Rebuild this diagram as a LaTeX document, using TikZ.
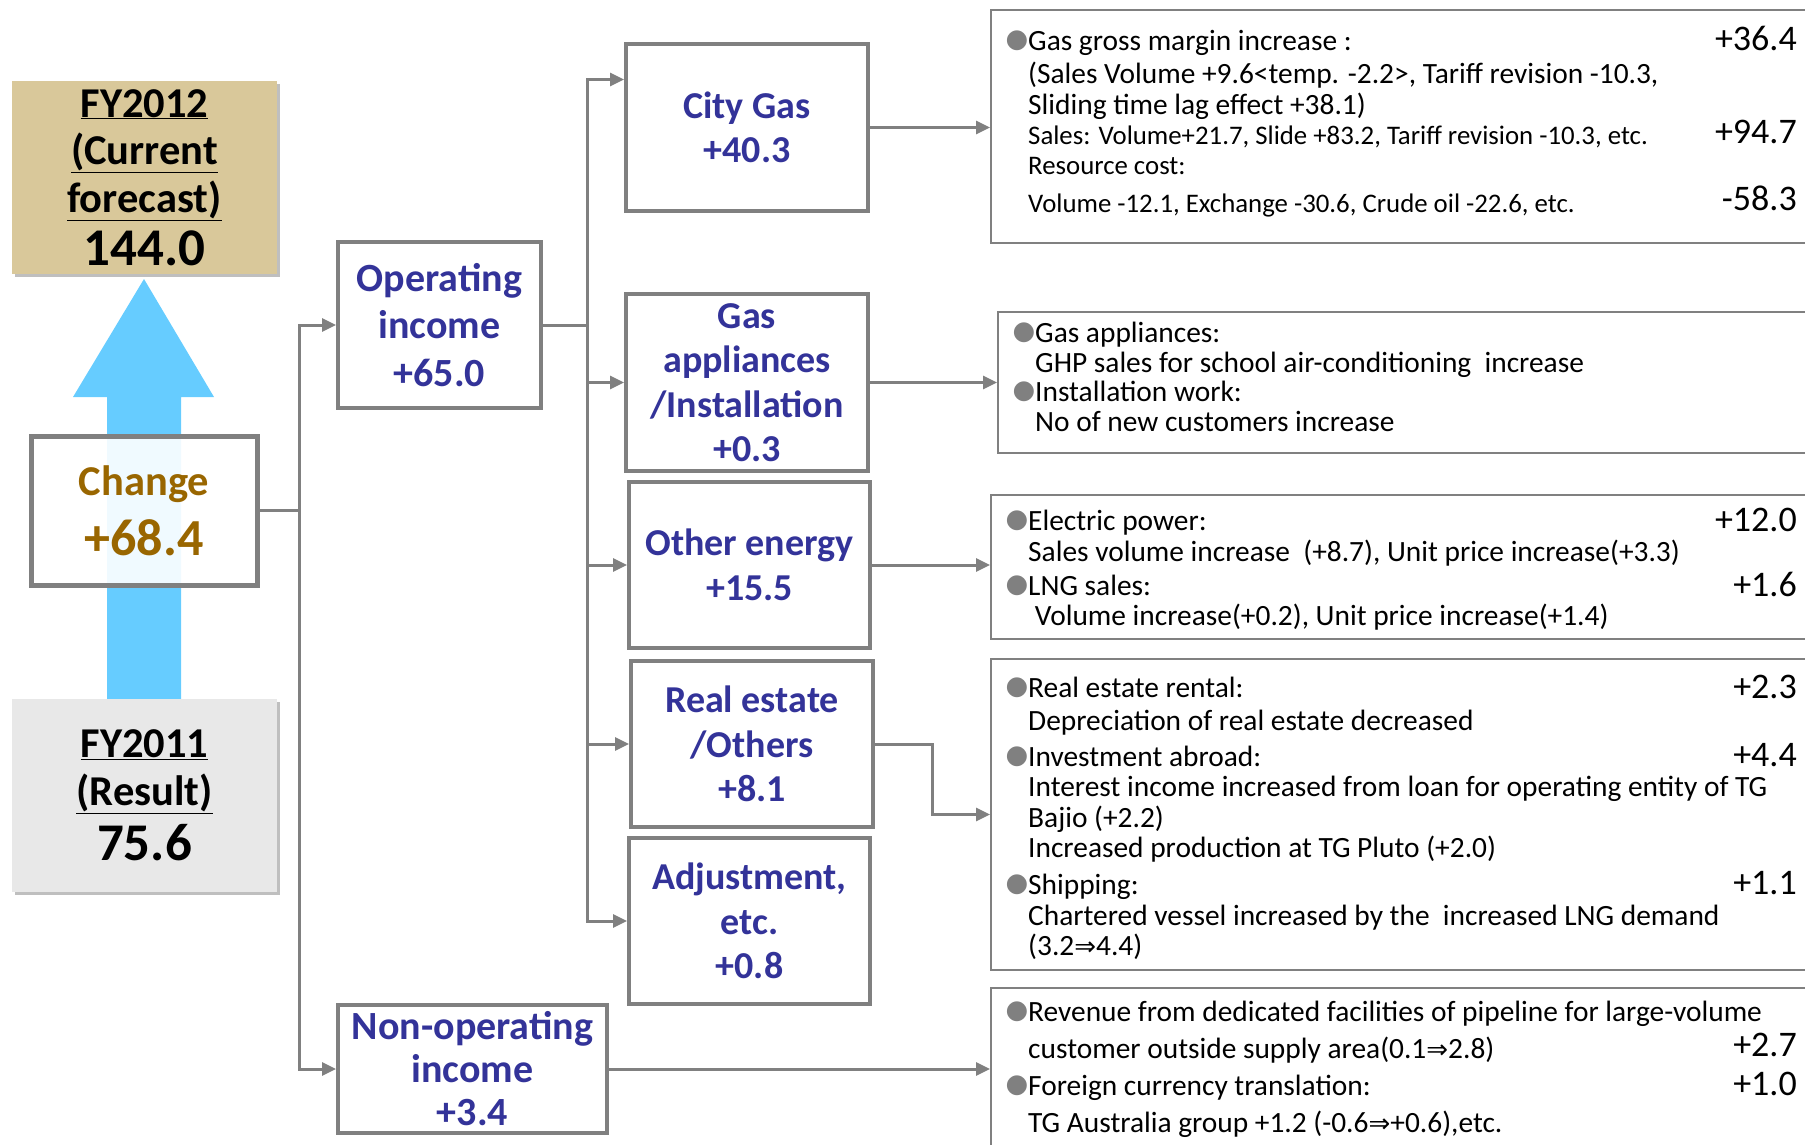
\documentclass[tikz,border=0pt]{standalone}
\usepackage{fontspec}
\setmainfont{Carlito}
\newfontfamily\symfont{DejaVu Sans}
\usetikzlibrary{positioning,calc,arrows.meta,shadows}
\definecolor{tgnavy}{RGB}{51,51,153}
\definecolor{tgbrown}{RGB}{153,102,0}
\definecolor{tgtan}{RGB}{217,200,154}
\definecolor{tglight}{RGB}{232,232,232}
\definecolor{tgsky}{RGB}{102,204,255}
\definecolor{tggray}{RGB}{128,128,128}
\newcommand\bul{\llap{\raisebox{3pt}{\color{tggray}\symfont\fontsize{26}{26}\selectfont ●}}}
\newcommand\imp{{\symfont\fontsize{26}{26}\selectfont ⇒}}

\begin{document}
\begin{tikzpicture}[x=1pt, y=-1pt,
  sumbox/.style={rectangle, minimum width=265pt, minimum height=193pt, inner sep=0pt, align=center,
                 font=\bfseries\fontsize{42.5}{47.5}\selectfont,
                 drop shadow={shadow xshift=3pt, shadow yshift=-3pt, fill=black!25, opacity=1}},
  chgbox/.style={rectangle, draw=tggray, line width=5pt, fill=white, fill opacity=0.9, text opacity=1,
                 text=tgbrown, minimum width=226pt, minimum height=149pt, inner sep=0pt, align=center},
  midbox/.style={rectangle, draw=tggray, line width=4pt, fill=white, text=tgnavy, inner sep=0pt,
                 align=center, font=\bfseries\fontsize{38}{44.5}\selectfont},
  detbox/.style={rectangle, draw=tggray, line width=2pt, anchor=north west, minimum width=860pt},
  dettext/.style={anchor=north west, align=left, inner sep=0pt, font=\fontsize{29.4}{30.5}\selectfont},
  val/.style={anchor=base east, inner sep=0pt, font=\fontsize{36}{36}\selectfont},
  wire/.style={draw=tggray, line width=3pt},
  link/.style={wire, -{Triangle[length=14pt,width=13pt]}},
]
\useasboundingbox (0,0) rectangle (1805,1145);
\clip (0,0) rectangle (1805,1145);

% left column: forecast, arrow, change, result
\fill[tgsky] (107,699) -- (107,397) -- (73,397) -- (144,279) -- (214,397) -- (181,397) -- (181,699) -- cycle;
\node[sumbox, fill=tgtan] (fy12) at (144.5,177.5)
  {\underline{FY2012}\\\underline{(Current}\\\underline{forecast)}\\[6pt]{\fontsize{53}{53}\selectfont 144.0}};
\node[sumbox, fill=tglight] (fy11) at (144.5,795.5)
  {\underline{FY2011}\\\underline{(Result)}\\[8pt]{\fontsize{53}{53}\selectfont 75.6}};
\node[chgbox] (change) at (144,510.5)
  {{\bfseries\fontsize{42.5}{42.5}\selectfont Change}\\[16pt]{\bfseries\fontsize{52}{52}\selectfont +68.4}};

% middle column
\node[midbox, minimum width=203pt, minimum height=166pt, font=\bfseries\fontsize{40}{47.5}\selectfont]
  (opinc) at (439.5,325) {Operating\\income\\+65.0};
\node[midbox, minimum width=269pt, minimum height=128pt, font=\bfseries\fontsize{40}{43}\selectfont]
  (nonop) at (472.5,1069) {Non-operating\\income\\+3.4};
\node[midbox, minimum width=242pt, minimum height=167pt] (city) at (747,127.5) {City Gas\\+40.3};
\node[midbox, minimum width=242pt, minimum height=177pt] (gasap) at (747,382.5) {Gas\\appliances\\/Installation\\+0.3};
\node[midbox, minimum width=241pt, minimum height=166pt] (other) at (749.5,565) {Other energy\\+15.5};
\node[midbox, minimum width=242pt, minimum height=166pt] (real) at (752,744) {Real estate\\/Others\\+8.1};
\node[midbox, minimum width=241pt, minimum height=166pt] (adj) at (749.5,921) {Adjustment,\\etc.\\+0.8};

% right column: detail frames
\node[detbox, minimum height=233pt] (d1) at (990,9) {};
\node[detbox, minimum height=141pt] (d2) at (997,311) {};
\node[detbox, minimum height=144pt] (d3) at (990,494) {};
\node[detbox, minimum height=311pt] (d4) at (990,658) {};
\node[detbox, minimum height=180pt] (d5) at (990,987) {};

% detail texts
\node[dettext, font=\fontsize{29.4}{31}\selectfont] (t1) at (1028,28.3) {\strut\bul Gas gross margin increase :\\[2pt]
  (Sales Volume +9.6<temp. -2.2>, Tariff revision -10.3,\\
  Sliding time lag effect +38.1)};
\node[dettext, font=\fontsize{26.8}{30}\selectfont] (t1b) at (1028,123) {\strut Sales: Volume+21.7, Slide +83.2, Tariff revision -10.3, etc.\\
  Resource cost:\\[8pt]
  Volume -12.1, Exchange -30.6, Crude oil -22.6, etc.};
\node[val] (v1a) at (1797,51) {+36.4};
\node[val] (v1b) at (1797,144) {+94.7};
\node[val] (v1c) at (1797,211) {-58.3};

\node[dettext, font=\fontsize{29.4}{29.5}\selectfont] (t2) at (1035,322) {\strut\bul Gas appliances:\\
  GHP sales for school air-conditioning\ \ increase\\
  \bul Installation work:\\
  No of new customers increase};

\node[dettext, font=\fontsize{29.4}{30}\selectfont] (t3) at (1028,509) {\strut\bul Electric power:\\
  Sales volume increase\ \ (+8.7), Unit price increase(+3.3)\\[4pt]
  \bul LNG sales:\\
  \ Volume increase(+0.2), Unit price increase(+1.4)};
\node[val] (v3a) at (1797,531) {+12.0};
\node[val] (v3b) at (1797,596) {+1.6};

\node[dettext] (t4) at (1028,675.6) {\strut\bul Real estate rental:\\[2.5pt]
  Depreciation of real estate decreased\\[5.5pt]
  \bul Investment abroad:\\
  Interest income increased from loan for operating entity of TG\\
  Bajio (+2.2)\\
  Increased production at TG Pluto (+2.0)\\[6.5pt]
  \bul Shipping:\\
  Chartered vessel increased by the\ \ increased LNG demand\\
  (3.2\imp 4.4)};
\node[val] (v4a) at (1797,698) {+2.3};
\node[val] (v4b) at (1797,766) {+4.4};
\node[val] (v4c) at (1797,894) {+1.1};

\node[dettext, font=\fontsize{29.4}{37}\selectfont] (t5) at (1028,995) {\strut\bul Revenue from dedicated facilities of pipeline for large-volume\\
  customer outside supply area(0.1\imp 2.8)\\
  \bul Foreign currency translation:\\
  TG Australia group +1.2 (-0.6\imp +0.6),etc.};
\node[val] (v5a) at (1797,1056) {+2.7};
\node[val] (v5b) at (1797,1095) {+1.0};

% connectors
\coordinate (spine) at ([xshift=40pt]change.east);
\draw[wire] (change.east) -- (spine);
\draw[link] (spine) |- (opinc.west);
\draw[link] (spine) |- (nonop.west);

\coordinate (bus) at ([xshift=44pt]opinc.east);
\draw[wire] (opinc.east) -- (bus);
\draw[link] (bus) |- ([yshift=48pt]city.west);
\draw[link] (bus) |- (gasap.west);
\draw[link] (bus) |- (other.west);
\draw[link] (bus) |- (real.west);
\draw[link] (bus) |- (adj.west);

\draw[link] (city.east) -- (city.east -| d1.west);
\draw[link] (gasap.east) -- (gasap.east -| d2.west);
\draw[link] (other.east) -- (other.east -| d3.west);
\draw[link] (real.east) -- ++(57,0) |- (d4.west);
\draw[link] (nonop.east) -- (nonop.east -| d5.west);
\end{tikzpicture}
\end{document}
